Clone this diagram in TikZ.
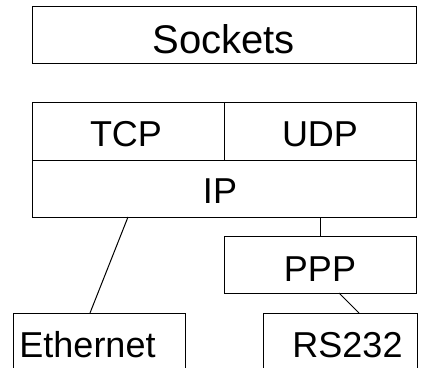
\documentclass[tikz,border=0pt]{standalone}
\usepackage{fontspec}
\setmainfont{Liberation Sans}
\begin{document}
\begin{tikzpicture}[x=1pt,y=-1pt,
  box/.style={draw=black, line width=1pt, rectangle, inner sep=0pt, outer sep=0pt},
  lbl/.style={anchor=base, inner sep=0pt, font=\fontsize{36}{43}\selectfont},
  conn/.style={draw=black, line width=1pt}]
\useasboundingbox (0,0) rectangle (428,367);
\clip (0,0) rectangle (428,367);
% boxes
\node[box, minimum width=384pt, minimum height=57pt] (sock) at (224,34.5) {};
\node[box, minimum width=192pt, minimum height=58pt] (tcp) at (128,131) {};
\node[box, minimum width=192pt, minimum height=58pt] (udp) at (320,131) {};
\node[box, minimum width=384pt, minimum height=57pt] (ip) at (224,188.5) {};
\node[box, minimum width=192pt, minimum height=57pt] (ppp) at (320,264.5) {};
\node[box, minimum width=172pt, minimum height=67pt] (eth) at (99,346.5) {};
\node[box, minimum width=154pt, minimum height=67pt] (rs) at (340,346.5) {};
% labels
\node[lbl, font=\fontsize{40}{48}\selectfont] (tsock) at (223.5,53) {Sockets};
\node[lbl] (ttcp) at (126,146) {TCP};
\node[lbl] (tudp) at (320,146) {UDP};
\node[lbl] (tip) at (220,203) {IP};
\node[lbl] (tppp) at (320,281) {PPP};
\node[lbl] (teth) at (87.5,357) {Ethernet};
\node[lbl] (trs) at (347.5,357) {RS232};
% connectors
\draw[conn] ([xshift=96pt]ip.south west) -- ([xshift=77pt]eth.north west);
\draw[conn] (ppp.north) -- (ppp.north |- ip.south);
\draw[conn] ([xshift=19pt]ppp.south) -- ([xshift=96pt]rs.north west);
\end{tikzpicture}
\end{document}
